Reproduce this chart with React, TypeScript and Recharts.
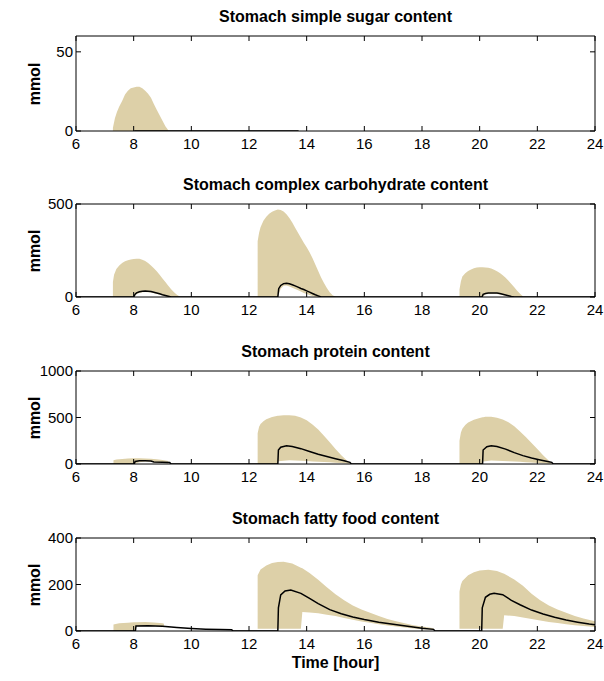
import React from 'react';
import { ComposedChart, Area, Line, XAxis, YAxis } from 'recharts';

const FONT = '"Liberation Sans", Arial, Helvetica, sans-serif';
const BEIGE = '#DDD0A8';

const hourTicks = [6, 8, 10, 12, 14, 16, 18, 20, 22, 24];

const titles = [
  'Stomach simple sugar content',
  'Stomach complex carbohydrate content',
  'Stomach protein content',
  'Stomach fatty food content',
];
const yLabel = 'mmol';
const xLabel = 'Time [hour]';

// ---------- simple sugar ----------
const sugarTicks = [0, 50];
const sugarBandT = [7.28, 7.35, 7.42, 7.5, 7.6, 7.7, 7.8, 7.9, 8.0, 8.1, 8.2, 8.3, 8.4, 8.5, 8.6, 8.7, 8.8, 8.9, 9.0, 9.1, 9.2];
const sugarBandHi = [2, 8, 12, 15.5, 19, 23, 25.5, 27, 27.5, 28, 28, 27, 25.5, 23.5, 21, 17, 13.5, 10, 6.5, 3, 0.5];
const sugarBandLo = [0, 0, 0, 0, 0, 0, 0, 0, 0, 0, 0, 0, 0, 0, 0, 0, 0, 0, 0, 0, 0];
const sugarLineT = [8.02, 13.72];
const sugarLineV = [0, 0];

// ---------- complex carbohydrate ----------
const carbTicks = [0, 500];
const carbBandT = [
  7.28, 7.32, 7.4, 7.5, 7.6, 7.7, 7.8, 7.9, 8.0, 8.1, 8.2, 8.3, 8.4, 8.5, 8.6, 8.7, 8.8, 8.9, 9.0, 9.1, 9.2, 9.3, 9.4, 9.5, 9.6,
  10,
  12.3, 12.35, 12.4, 12.5, 12.6, 12.7, 12.8, 12.9, 13.0, 13.1, 13.2, 13.3, 13.4, 13.5, 13.6, 13.7, 13.8, 13.9, 14.0, 14.1, 14.2, 14.3, 14.4, 14.5, 14.6, 14.7, 14.8, 14.9, 15.0,
  17,
  19.3, 19.35, 19.4, 19.5, 19.6, 19.7, 19.8, 19.9, 20.0, 20.1, 20.2, 20.3, 20.4, 20.5, 20.6, 20.7, 20.8, 20.9, 21.0, 21.1, 21.2, 21.3, 21.4, 21.5,
];
const carbBandHi = [
  80, 120, 150, 170, 183, 192, 198, 202, 204, 205, 205, 200, 193, 183, 170, 155, 138, 120, 100, 80, 60, 42, 26, 12, 3,
  null,
  300, 345, 375, 410, 432, 448, 458, 465, 470, 468, 460, 445, 425, 400, 372, 345, 318, 292, 268, 240, 210, 175, 140, 105, 75, 48, 25, 10, 2,
  null,
  40, 85, 110, 128, 140, 148, 154, 158, 160, 160, 159, 157, 153, 147, 139, 129, 117, 103, 87, 70, 52, 34, 17, 4,
];
const carbBandLo = [
  0, 0, 0, 0, 0, 0, 0, 0, 0, 15, 22, 25, 27, 26, 24, 20, 16, 12, 8, 4, 1, 0, 0, 0, 0,
  null,
  0, 0, 0, 0, 0, 0, 0, 0, 0, 45, 60, 62, 57, 50, 43, 36, 29, 22, 16, 11, 6, 2, 0, 0, 0, 0, 0, 0, 0,
  null,
  0, 0, 0, 0, 0, 0, 0, 0, 0, 0, 14, 16, 17, 17, 16, 13, 10, 7, 4, 1, 0, 0, 0, 0,
];
const carbLineT = [
  6, 8.0, 8.05, 8.1, 8.2, 8.3, 8.4, 8.5, 8.6, 8.7, 8.8, 8.9, 9.0, 9.1, 9.2, 9.3,
  13.0, 13.03, 13.1, 13.2, 13.3, 13.4, 13.5, 13.6, 13.7, 13.8, 13.9, 14.0, 14.1, 14.2, 14.3, 14.4, 14.5,
  20.08, 20.12, 20.2, 20.3, 20.4, 20.5, 20.6, 20.7, 20.8, 20.9, 21.0, 21.1, 21.2,
  24,
];
const carbLineV = [
  0, 0, 15, 22, 28, 31, 32, 31, 29, 25, 21, 17, 12, 8, 4, 0,
  0, 45, 62, 72, 74, 71, 66, 60, 53, 46, 40, 33, 26, 19, 12, 6, 0,
  0, 14, 19, 21, 22, 22, 21, 19, 15, 11, 7, 3, 0,
  0,
];

// ---------- protein ----------
const protTicks = [0, 500, 1000];
const protBandT = [
  7.3, 7.4, 7.6, 7.8, 8.0, 8.2, 8.4, 8.6, 8.8, 9.0, 9.2,
  10,
  12.3, 12.35, 12.4, 12.5, 12.6, 12.8, 13.0, 13.02, 13.2, 13.4, 13.6, 13.8, 14.0, 14.2, 14.4, 14.6, 14.8, 15.0, 15.2, 15.4, 15.5,
  17,
  19.3, 19.35, 19.4, 19.5, 19.6, 19.8, 20.0, 20.1, 20.12, 20.2, 20.4, 20.6, 20.8, 21.0, 21.2, 21.4, 21.6, 21.8, 22.0, 22.2, 22.4, 22.5,
];
const protBandHi = [
  40, 48, 55, 59, 62, 62, 60, 56, 50, 42, 32,
  null,
  330, 400, 430, 460, 480, 505, 518, 519, 525, 525, 518, 500, 470, 425, 370, 305, 235, 160, 95, 35, 8,
  null,
  250, 340, 380, 420, 445, 475, 495, 502, 504, 507, 508, 498, 478, 448, 405, 350, 290, 225, 160, 95, 35, 8,
];
const protBandLo = [
  0, 0, 0, 0, 0, 20, 28, 25, 14, 10, 5,
  null,
  0, 0, 0, 0, 0, 0, 0, 30, 35, 40, 38, 35, 32, 28, 25, 22, 18, 14, 10, 5, 0,
  null,
  0, 0, 0, 0, 0, 0, 0, 0, 28, 30, 38, 36, 33, 30, 27, 24, 20, 16, 12, 8, 4, 0,
];
const protLineT = [
  6, 8.02, 8.05, 8.2, 8.4, 8.6, 8.7, 9.0, 9.25, 9.3,
  13.0, 13.02, 13.1, 13.3, 13.5, 13.8, 14.1, 14.4, 14.7, 15.0, 15.3, 15.5, 15.55,
  20.1, 20.12, 20.25, 20.4, 20.6, 20.9, 21.2, 21.5, 21.8, 22.1, 22.4, 22.5, 22.55,
  24,
];
const protLineV = [
  0, 0, 28, 34, 36, 33, 22, 18, 15, 0,
  0, 150, 180, 195, 188, 165, 135, 105, 80, 57, 35, 18, 0,
  0, 150, 185, 195, 187, 160, 122, 90, 65, 44, 25, 18, 0,
  0,
];

// ---------- fatty food ----------
const fatTicks = [0, 200, 400];
const fatBandT = [
  7.3, 7.5, 7.8, 8.0, 8.05, 8.1, 8.4, 8.7, 9.0, 9.05,
  10,
  12.3, 12.4, 12.6, 12.8, 13.0, 13.2, 13.5, 13.8, 13.85, 14.1, 14.4, 14.7, 15.0, 15.3, 15.6, 15.9, 16.2, 16.5, 16.8, 17.1, 17.4, 17.7, 18.0, 18.3, 18.4,
  19,
  19.3, 19.35, 19.4, 19.6, 19.8, 20.0, 20.3, 20.6, 20.8, 20.85, 21.2, 21.5, 21.8, 22.1, 22.4, 22.7, 23.0, 23.3, 23.6, 24.0,
];
const fatBandHi = [
  28, 33, 36, 38, 38, 38, 39, 37, 33, 31,
  null,
  240, 265, 282, 292, 297, 298, 290, 272, 270, 250, 220, 188, 158, 132, 110, 93, 78, 64, 52, 42, 33, 25, 19, 14, 12,
  null,
  170, 200, 215, 240, 253, 260, 263, 258, 248, 246, 222, 195, 160, 132, 110, 93, 78, 65, 54, 42,
];
const fatBandLo = [
  0, 0, 0, 0, 0, 20, 21, 20, 19, 18,
  null,
  10, 10, 10, 10, 10, 10, 10, 10, 82, 80, 76, 70, 64, 56, 48, 41, 35, 29, 24, 19, 15, 11, 8, 6, 5,
  null,
  10, 10, 10, 10, 10, 10, 10, 10, 10, 68, 64, 58, 52, 45, 39, 34, 29, 25, 21, 17,
];
const fatLineT = [
  6, 8.06, 8.08, 8.5, 9.0, 9.5, 10.0, 10.5, 11.0, 11.4, 11.45,
  13.0, 13.02, 13.1, 13.25, 13.45, 13.8, 14.1, 14.4, 14.8, 15.2, 15.6, 16.0, 16.5, 17.0, 17.5, 18.0, 18.4, 18.45,
  20.07, 20.09, 20.2, 20.35, 20.5, 20.8, 21.1, 21.4, 21.8, 22.2, 22.6, 23.0, 23.4, 23.8, 24.0,
];
const fatLineV = [
  0, 0, 22, 23, 20, 15, 11, 8, 6, 5, 0,
  0, 100, 155, 172, 176, 162, 140, 118, 92, 74, 60, 49, 38, 29, 20, 12, 7, 0,
  0, 100, 145, 158, 162, 156, 132, 113, 90, 73, 59, 47, 38, 30, 27,
];

function bandRows(t: number[], lo: (number | null)[], hi: (number | null)[]) {
  return t.map((x, i) => ({ t: x, band: hi[i] == null || lo[i] == null ? null : [lo[i], hi[i]] }));
}
function lineRows(t: number[], v: number[]) {
  return t.map((x, i) => ({ t: x, v: v[i] }));
}

const LEFT = 76;
const RIGHT = 595;
const MT = 10;
const XH = 30;
const TICK_LEN = 5;
const X_LABEL_GAP = 7;
const Y_LABEL_GAP = 3;
const TICK_FONT = 15;

// bottom axis: label + inward tick mark
const BottomTick = (props: any) => {
  const { x, y, payload } = props;
  const axisY = y - X_LABEL_GAP;
  return (
    <g>
      <line x1={x} x2={x} y1={axisY} y2={axisY - TICK_LEN} stroke="#000" strokeWidth={1} />
      <text x={x} y={y} dy="0.72em" textAnchor="middle" fill="#000" fontSize={TICK_FONT} fontFamily={FONT}>
        {payload.value}
      </text>
    </g>
  );
};
// left axis: label + inward tick mark
const LeftTick = (props: any) => {
  const { x, y, payload } = props;
  const axisX = x + Y_LABEL_GAP;
  return (
    <g>
      <line x1={axisX} x2={axisX + TICK_LEN} y1={y} y2={y} stroke="#000" strokeWidth={1} />
      <text x={x} y={y} dy="0.36em" textAnchor="end" fill="#000" fontSize={TICK_FONT} fontFamily={FONT}>
        {payload.value}
      </text>
    </g>
  );
};
// top axis: inward tick only
const TopTick = (props: any) => {
  const { x, y } = props;
  return <line x1={x} x2={x} y1={y} y2={y + TICK_LEN} stroke="#000" strokeWidth={1} />;
};
// right axis: inward tick only
const RightTick = (props: any) => {
  const { x, y } = props;
  return <line x1={x} x2={x - TICK_LEN} y1={y} y2={y} stroke="#000" strokeWidth={1} />;
};

type PanelProps = {
  title: string;
  boxTop: number;
  plotH: number;
  domain: [number, number];
  yTicks: number[];
  band: any[];
  line: any[];
};

function Panel({ title, boxTop, plotH, domain, yTicks, band, line }: PanelProps) {
  const axisStyle = { stroke: '#000', strokeWidth: 1 };
  return (
    <>
      <div
        style={{
          position: 'absolute',
          left: LEFT,
          width: RIGHT - LEFT,
          top: boxTop - 28,
          height: 18,
          lineHeight: '18px',
          textAlign: 'center',
          fontFamily: FONT,
          fontWeight: 'bold',
          fontSize: 16,
          color: '#000',
          whiteSpace: 'nowrap',
        }}
      >
        {title}
      </div>
      <div
        style={{
          position: 'absolute',
          left: 35,
          top: boxTop + plotH / 2,
          transform: 'translate(-50%, -50%) rotate(-90deg)',
          fontFamily: FONT,
          fontWeight: 'bold',
          fontSize: 16,
          lineHeight: '16px',
          color: '#000',
          whiteSpace: 'nowrap',
        }}
      >
        {yLabel}
      </div>
      <div style={{ position: 'absolute', left: 0, top: boxTop - MT }}>
        <ComposedChart
          width={604}
          height={MT + plotH + XH}
          margin={{ top: MT - 1, right: 604 - RIGHT - 1, bottom: 0, left: LEFT - 40 }}
        >
          <XAxis
            xAxisId="b"
            dataKey="t"
            type="number"
            domain={[6, 24]}
            ticks={hourTicks}
            interval={0}
            allowDataOverflow
            orientation="bottom"
            height={XH}
            tickSize={0}
            tickMargin={X_LABEL_GAP}
            axisLine={axisStyle}
            tickLine={false}
            tick={BottomTick}
          />
          <XAxis
            xAxisId="t"
            dataKey="t"
            type="number"
            domain={[6, 24]}
            ticks={hourTicks}
            interval={0}
            allowDataOverflow
            orientation="top"
            height={1}
            tickSize={0}
            tickMargin={0}
            tick={TopTick}
            tickLine={false}
            axisLine={axisStyle}
          />
          <YAxis
            yAxisId="l"
            type="number"
            domain={domain}
            ticks={yTicks}
            interval={0}
            allowDataOverflow
            width={40}
            tickSize={0}
            tickMargin={Y_LABEL_GAP}
            axisLine={axisStyle}
            tickLine={false}
            tick={LeftTick}
          />
          <YAxis
            yAxisId="r"
            type="number"
            orientation="right"
            width={1}
            domain={domain}
            ticks={yTicks}
            interval={0}
            allowDataOverflow
            tickSize={0}
            tickMargin={0}
            tick={RightTick}
            tickLine={false}
            axisLine={axisStyle}
          />
          <Area
            xAxisId="b"
            yAxisId="l"
            data={band}
            dataKey="band"
            type="linear"
            stroke="none"
            fill={BEIGE}
            fillOpacity={1}
            connectNulls={false}
            isAnimationActive={false}
          />
          <Line
            xAxisId="b"
            yAxisId="l"
            data={line}
            dataKey="v"
            type="linear"
            stroke="#000"
            strokeWidth={1.5}
            dot={false}
            activeDot={false}
            connectNulls={false}
            isAnimationActive={false}
          />
          <Line
            xAxisId="t"
            yAxisId="r"
            data={line}
            dataKey="v"
            type="linear"
            stroke="none"
            strokeOpacity={0}
            dot={false}
            activeDot={false}
            legendType="none"
            isAnimationActive={false}
          />
        </ComposedChart>
      </div>
    </>
  );
}

export default function App() {
  return (
    <div style={{ position: 'absolute', left: 0, top: 0, width: 604, height: 681, background: '#fff' }}>
      <Panel title={titles[0]} boxTop={36} plotH={95} domain={[0, 60]} yTicks={sugarTicks}
        band={bandRows(sugarBandT, sugarBandLo, sugarBandHi)} line={lineRows(sugarLineT, sugarLineV)} />
      <Panel title={titles[1]} boxTop={204} plotH={93} domain={[0, 500]} yTicks={carbTicks}
        band={bandRows(carbBandT, carbBandLo, carbBandHi)} line={lineRows(carbLineT, carbLineV)} />
      <Panel title={titles[2]} boxTop={371} plotH={93} domain={[0, 1000]} yTicks={protTicks}
        band={bandRows(protBandT, protBandLo, protBandHi)} line={lineRows(protLineT, protLineV)} />
      <Panel title={titles[3]} boxTop={538} plotH={93} domain={[0, 400]} yTicks={fatTicks}
        band={bandRows(fatBandT, fatBandLo, fatBandHi)} line={lineRows(fatLineT, fatLineV)} />
      <div
        style={{
          position: 'absolute',
          left: LEFT,
          width: RIGHT - LEFT,
          top: 654,
          height: 18,
          lineHeight: '18px',
          textAlign: 'center',
          fontFamily: FONT,
          fontWeight: 'bold',
          fontSize: 16,
          color: '#000',
        }}
      >
        {xLabel}
      </div>
    </div>
  );
}
